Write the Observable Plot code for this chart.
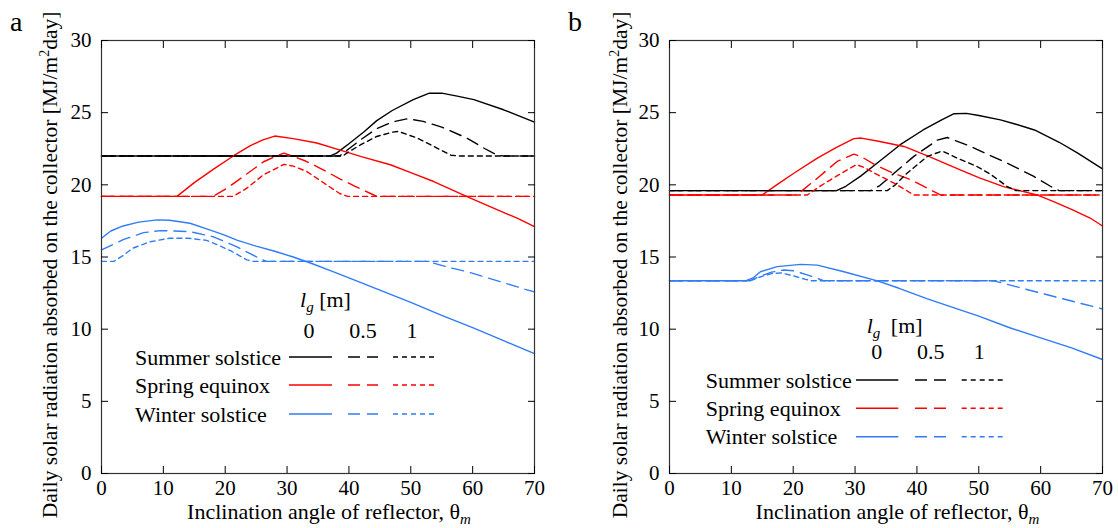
<!DOCTYPE html>
<html><head><meta charset="utf-8">
<script src="https://cdn.jsdelivr.net/npm/d3@7"></script>
<script src="https://cdn.jsdelivr.net/npm/@observablehq/plot@0.6"></script>
<style>
body{margin:0;background:#fff;}
#wrap{position:relative;width:1118px;height:528px;overflow:hidden;background:#fff;}
#wrap svg{position:absolute;top:0;}
</style></head><body><div id="wrap"></div>
<script>
// ---- categories & ticks ----
const seasons = ["Summer solstice", "Spring equinox", "Winter solstice"];
const lgValues = ["0", "0.5", "1"];
const seasonColors = ["#000000", "#ff0000", "#2f7cf6"];
const dashes = ["none", "12,7", "5,4"];
const xTicks = [0, 10, 20, 30, 40, 50, 60, 70];
const yTicks = [0, 5, 10, 15, 20, 25, 30];

// ---- panel a: [inclination angle, daily radiation] ----
const a_summer_0 = [[0,22],[37,22],[38,22.2],[40,22.85],[42.5,23.7],[44.5,24.45],[47,25.15],[50.4,25.9],[53,26.35],[55,26.35],[57.5,26.15],[60.2,25.9],[65,25.2],[70,24.35]];
const a_summer_05 = [[0,22],[38.5,22],[40,22.5],[42,23.15],[44.5,23.9],[47,24.35],[49.5,24.58],[52,24.4],[55,24.0],[59,23.25],[62,22.5],[64,22.05],[65,22],[70,22]];
const a_summer_1 = [[0,22],[39,22],[40,22.3],[42,22.8],[44.5,23.35],[47,23.65],[48,23.7],[51,23.25],[54,22.6],[56.5,22.05],[58,22],[70,22]];
const a_spring_0 = [[0,19.2],[12.2,19.2],[15,20.15],[18,21.05],[21.3,22.0],[24,22.7],[26,23.1],[28,23.38],[31,23.2],[34.8,22.9],[38.6,22.4],[42,21.95],[46.7,21.39],[50,20.85],[53.7,20.23],[59.1,19.19],[63,18.45],[67.2,17.69],[70,17.1]];
const a_spring_05 = [[0,19.2],[18,19.2],[20.3,19.77],[23,20.6],[26.2,21.6],[28.3,22.0],[29.5,22.2],[33,21.65],[36,21.0],[38.6,20.4],[41,19.9],[43.5,19.4],[44.5,19.2],[70,19.2]];
const a_spring_1 = [[0,19.2],[21.3,19.2],[23.5,19.77],[26.2,20.7],[29.5,21.42],[31,21.3],[33.2,20.92],[36.4,20.0],[38.5,19.4],[39.8,19.2],[70,19.2]];
const a_winter_0 = [[0,16.3],[1.5,16.8],[3.5,17.15],[6,17.42],[9,17.57],[11,17.55],[14.3,17.34],[17,16.95],[19.7,16.55],[22,16.15],[25,15.75],[28,15.4],[31,15.0],[34,14.55],[37,14.05],[40,13.55],[45,12.7],[50,11.85],[55,10.95],[60,10.1],[65,9.2],[70,8.3]];
const a_winter_05 = [[0,15.49],[3.5,16.2],[6.8,16.69],[9.5,16.83],[14.3,16.76],[18.1,16.4],[21.9,15.7],[25.1,15.0],[26.6,14.7],[52.6,14.7],[56,14.3],[59.1,13.98],[64.5,13.29],[68.5,12.76],[70,12.58]];
const a_winter_1 = [[0,14.7],[2,14.7],[3.5,15.1],[5,15.6],[7.8,16.05],[11,16.3],[14,16.3],[17,16.15],[19,15.8],[21,15.4],[23.5,14.8],[24.5,14.7],[70,14.7]];

// ---- panel b ----
const b_summer_0 = [[0,19.6],[27,19.6],[28.5,19.9],[30.9,20.6],[34,21.65],[37.3,22.78],[41,23.8],[44,24.5],[46,24.93],[48,24.95],[50,24.8],[53.5,24.5],[56,24.2],[59,23.8],[63,22.95],[66,22.2],[70,21.1]];
const b_summer_05 = [[0,19.6],[32.5,19.6],[34,19.95],[36.3,20.8],[39.5,21.97],[43.3,23.1],[44.9,23.28],[48.7,22.66],[51.5,22.1],[54.6,21.5],[58.9,20.58],[62.1,19.77],[63,19.6],[70,19.6]];
const b_summer_1 = [[0,19.6],[35.2,19.6],[36.5,20.0],[38.4,20.8],[41.7,21.97],[43.8,22.3],[44.3,22.3],[46.5,21.85],[49.7,21.27],[52,20.7],[54.6,19.88],[56,19.6],[70,19.6]];
const b_spring_0 = [[0,19.3],[15,19.3],[17.5,20.05],[20.1,20.8],[23.9,21.85],[27,22.6],[29.8,23.2],[31,23.24],[34,23.0],[37.9,22.66],[42,21.95],[47,21.04],[50,20.5],[54,19.88],[59.4,19.3],[62,18.85],[65,18.3],[68,17.7],[70,17.15]];
const b_spring_05 = [[0,19.3],[20.6,19.3],[23.9,20.46],[27.1,21.62],[29.8,22.13],[31,21.95],[33.6,21.3],[36,20.85],[39,20.35],[41.5,19.8],[43.8,19.3],[70,19.3]];
const b_spring_1 = [[0,19.3],[22.3,19.3],[24.5,19.95],[27,20.6],[30.2,21.4],[31.5,21.2],[33.6,20.7],[36.3,20.12],[39.5,19.3],[70,19.3]];
const b_winter_0 = [[0,13.35],[12.3,13.35],[13.5,13.55],[14.7,13.98],[17.4,14.33],[21.2,14.49],[23.9,14.44],[28.2,13.98],[33.6,13.35],[37,12.85],[41.7,12.1],[46.5,11.4],[50,10.9],[55,10.1],[60,9.4],[65,8.7],[70,7.9]];
const b_winter_05 = [[0,13.35],[13,13.35],[14.5,13.65],[16.5,13.95],[18.5,14.1],[20,14.05],[22,13.8],[25,13.35],[52.4,13.35],[56,12.95],[60,12.5],[65,11.95],[70,11.4]];
const b_winter_1 = [[0,13.35],[13,13.35],[14.5,13.6],[16.5,13.85],[18,13.9],[20,13.7],[22,13.45],[23,13.35],[70,13.35]];

const panelA = [[a_summer_0, a_summer_05, a_summer_1], [a_spring_0, a_spring_05, a_spring_1], [a_winter_0, a_winter_05, a_winter_1]];
const panelB = [[b_summer_0, b_summer_05, b_summer_1], [b_spring_0, b_spring_05, b_spring_1], [b_winter_0, b_winter_05, b_winter_1]];

const FONT = "'Liberation Serif', 'Times New Roman', serif";

function toRows(panel) {
  const rows = [];
  panel.forEach((bySeason, si) => bySeason.forEach((pts, li) => pts.forEach(([x, y]) =>
    rows.push({x, y, season: seasons[si], lg: lgValues[li]}))));
  return rows;
}

function makePanel(panel, o) {
  const rows = toRows(panel);
  const svg = Plot.plot({
    width: 559, height: 528,
    marginLeft: o.ml, marginRight: o.mr, marginTop: 40, marginBottom: 55,
    x: {domain: [0, 70]},
    y: {domain: [0, 30]},
    color: {domain: seasons, range: seasonColors},
    style: {fontFamily: FONT, fontSize: "21px", color: "black", background: "transparent", overflow: "visible"},
    marks: [
      ...lgValues.map((lg, i) => Plot.line(rows.filter(d => d.lg === lg), {
        x: "x", y: "y", z: "season", stroke: "season", strokeWidth: 1.4,
        strokeDasharray: dashes[i] === "none" ? null : dashes[i]
      })),
      Plot.frame({stroke: "#333", strokeWidth: 1.2}),
      Plot.axisX({anchor: "bottom", ticks: xTicks, tickSize: 0, tickPadding: 7, label: null}),
      Plot.axisX({anchor: "bottom", ticks: xTicks, tickSize: -7, tickFormat: () => "", label: null}),
      Plot.axisX({anchor: "top", ticks: xTicks, tickSize: -7, tickFormat: () => "", label: null}),
      Plot.axisY({anchor: "left", ticks: yTicks, tickSize: 0, tickPadding: 10, label: null}),
      Plot.axisY({anchor: "left", ticks: yTicks, tickSize: -7, tickFormat: () => "", label: null}),
      Plot.axisY({anchor: "right", ticks: yTicks, tickSize: -7, tickFormat: () => "", label: null})
    ]
  });
  svg.style.left = o.left + "px";
  const s = d3.select(svg);
  const g = s.append("g").attr("font-family", FONT).attr("font-size", 22).attr("fill", "black").attr("text-anchor", "start");
  // panel letter
  g.append("text").attr("x", o.letterX).attr("y", 31).attr("font-size", 28).text(o.letter);
  // y label
  const yl = g.append("text").attr("text-anchor", "middle").attr("font-size", 21.5)
    .attr("transform", `translate(${o.ylx},265) rotate(-90)`);
  yl.append("tspan").text("Daily solar radiation absorbed on the collector [MJ/m");
  yl.append("tspan").attr("font-size", 14).attr("dy", -8).text("2");
  yl.append("tspan").attr("dy", 8).text("day]");
  // x label
  const xl = g.append("text").attr("text-anchor", "middle").attr("x", o.xlx).attr("y", 519);
  xl.append("tspan").text("Inclination angle of reflector, θ");
  xl.append("tspan").attr("font-style", "italic").attr("font-size", 15).attr("dy", 5).text("m");
  // legend
  const L = o.legend;
  const h = g.append("text").attr("x", L.lgX).attr("y", L.lgY);
  h.append("tspan").attr("font-style", "italic").text("l");
  h.append("tspan").attr("font-style", "italic").attr("font-size", 15).attr("dy", 5).text("g");
  h.append("tspan").attr("dy", -5).attr("dx", L.gapDx).text(" [m]");
  lgValues.forEach((v, i) => g.append("text").attr("x", L.colX[i]).attr("y", L.colY).attr("text-anchor", "middle").text(v));
  seasons.forEach((name, j) => {
    g.append("text").attr("x", L.textX).attr("y", L.rowY[j] + 7.5).text(name);
    lgValues.forEach((v, i) => g.append("line")
      .attr("x1", L.lineX[i][0]).attr("x2", L.lineX[i][1])
      .attr("y1", L.rowY[j]).attr("y2", L.rowY[j])
      .attr("stroke", seasonColors[j]).attr("stroke-width", 1.4)
      .attr("stroke-dasharray", dashes[i]));
  });
  document.getElementById("wrap").appendChild(svg);
}

makePanel(panelA, {
  left: 0, ml: 101, mr: 25, letter: "a", letterX: 10, ylx: 57, xlx: 329,
  legend: {lgX: 300, lgY: 307, gapDx: 0, colX: [309, 363, 412], colY: 338, textX: 135,
    rowY: [357, 385, 414], lineX: [[289, 332], [348, 378], [393, 438]]}
});
makePanel(panelB, {
  left: 559, ml: 110, mr: 16, letter: "b", letterX: 9, ylx: 68, xlx: 338.5,
  legend: {lgX: 307.7, lgY: 333, gapDx: 5, colX: [317.7, 371.7, 420.3], colY: 359, textX: 146.7,
    rowY: [380, 408.3, 436.7], lineX: [[297, 339.3], [356, 387], [402.7, 446]]}
});
</script></body></html>
